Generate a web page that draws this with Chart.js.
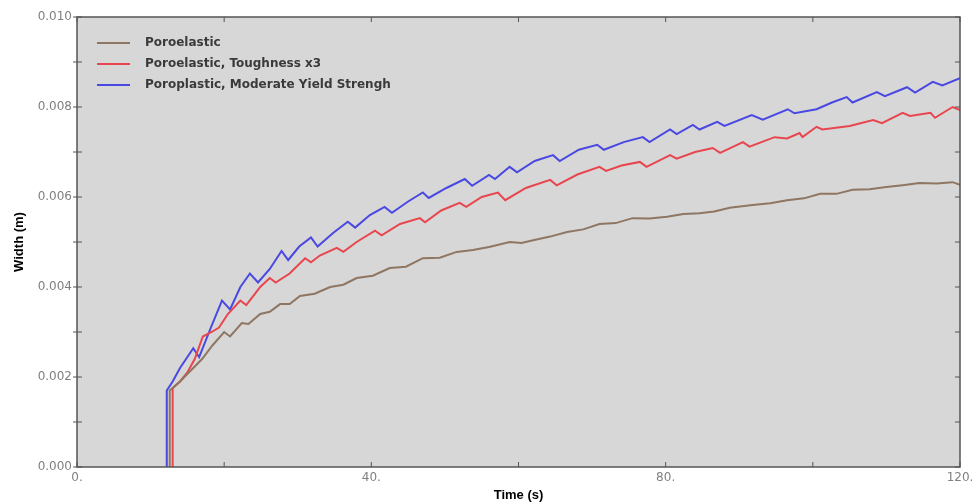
<!DOCTYPE html>
<html lang="en">
<head>
    <meta charset="UTF-8">
    <title>Width vs Time</title>
    <script src="https://cdn.jsdelivr.net/npm/chart.js"></script>
    <style>
        html, body { margin: 0; padding: 0; background: #ffffff; }
        .chart-box { width: 973px; height: 503px; position: relative; }
    </style>
</head>
<body>
    <div class="chart-box">
        <canvas id="widthChart"></canvas>
    </div>

    <script>
        // [time (s), width (m)] samples for each run
        const poroelastic = [
            [12.6, 0], [12.6, 0.0017], [14.0, 0.0019], [15.8, 0.0022], [17.0, 0.0024], [18.4, 0.0027],
            [20.0, 0.0030], [20.8, 0.0029], [22.4, 0.0032], [23.3, 0.00318], [24.9, 0.0034], [26.2, 0.00345],
            [27.6, 0.00362], [28.9, 0.00362], [30.3, 0.0038], [32.3, 0.00385], [34.4, 0.0040], [36.2, 0.00405],
            [38.0, 0.0042], [40.2, 0.00425], [42.5, 0.00442], [44.7, 0.00445], [47.0, 0.00464], [49.3, 0.00465],
            [51.6, 0.00478], [53.8, 0.00482], [56.0, 0.00489], [58.8, 0.0050], [60.4, 0.00498], [62.0, 0.00504],
            [64.3, 0.00512], [66.6, 0.00522], [68.8, 0.00528], [71.0, 0.0054], [73.2, 0.00542], [75.5, 0.00553],
            [77.8, 0.00552], [80.2, 0.00556], [82.4, 0.00562], [84.6, 0.00564], [86.6, 0.00568], [88.7, 0.00576],
            [91.8, 0.00582], [94.2, 0.00586], [96.5, 0.00593], [98.8, 0.00597], [101.0, 0.00607], [103.2, 0.00607],
            [105.4, 0.00616], [107.7, 0.00617], [110.0, 0.00622], [112.2, 0.00626], [114.5, 0.00631], [116.8, 0.0063],
            [119.0, 0.00633], [120.0, 0.00627]
        ];

        const toughnessX3 = [
            [13.0, 0], [13.0, 0.00175], [14.0, 0.0019], [15.0, 0.0021], [16.0, 0.0024], [17.1, 0.0029],
            [18.3, 0.0030], [19.3, 0.0031], [20.5, 0.0034], [22.2, 0.0037], [23.0, 0.0036], [24.9, 0.0040],
            [26.2, 0.0042], [27.0, 0.0041], [28.9, 0.0043], [31.0, 0.00464], [31.8, 0.00455], [33.0, 0.0047],
            [35.3, 0.00487], [36.2, 0.00478], [38.0, 0.0050], [40.5, 0.00525], [41.4, 0.00515], [43.9, 0.0054],
            [46.6, 0.00553], [47.3, 0.00544], [49.5, 0.0057], [52.0, 0.00587], [52.9, 0.00578], [55.0, 0.0060],
            [57.2, 0.0061], [58.2, 0.00593], [61.0, 0.0062], [64.3, 0.00638], [65.2, 0.00626], [68.0, 0.0065],
            [71.0, 0.00667], [71.9, 0.00658], [74.0, 0.0067], [76.5, 0.00678], [77.4, 0.00667], [80.6, 0.00693],
            [81.5, 0.00685], [84.0, 0.0070], [86.4, 0.00709], [87.4, 0.00698], [90.5, 0.00722], [91.4, 0.00712],
            [94.8, 0.00733], [96.5, 0.0073], [98.2, 0.00742], [98.6, 0.00733], [100.5, 0.00756], [101.3, 0.0075],
            [105.0, 0.00758], [108.2, 0.00771], [109.4, 0.00764], [112.2, 0.00787], [113.2, 0.0078], [116.0, 0.00787],
            [116.6, 0.00776], [119.0, 0.0080], [120.0, 0.00793]
        ];

        const moderateYield = [
            [12.2, 0], [12.2, 0.0017], [13.0, 0.0019], [14.0, 0.0022], [15.8, 0.00264], [16.6, 0.00244],
            [18.2, 0.0031], [19.7, 0.0037], [20.8, 0.0035], [22.2, 0.0040], [23.5, 0.0043], [24.6, 0.0041],
            [26.2, 0.0044], [27.8, 0.0048], [28.7, 0.0046], [30.2, 0.0049], [31.8, 0.0051], [32.7, 0.0049],
            [34.8, 0.0052], [36.8, 0.00545], [37.8, 0.00532], [39.8, 0.0056], [41.8, 0.00578], [42.8, 0.00565],
            [45.0, 0.0059], [47.0, 0.0061], [47.8, 0.00598], [50.2, 0.0062], [52.7, 0.0064], [53.7, 0.00625],
            [56.0, 0.00649], [56.8, 0.0064], [58.8, 0.00667], [59.8, 0.00655], [62.2, 0.0068], [64.7, 0.00693],
            [65.6, 0.0068], [68.2, 0.00705], [70.7, 0.00716], [71.6, 0.00705], [74.3, 0.00722], [76.9, 0.00733],
            [77.8, 0.00722], [80.6, 0.0075], [81.5, 0.0074], [83.7, 0.0076], [84.6, 0.0075], [87.0, 0.00767],
            [88.0, 0.00758], [91.7, 0.00782], [93.2, 0.00772], [96.6, 0.00795], [97.5, 0.00786], [100.5, 0.00795],
            [102.6, 0.0081], [104.6, 0.00822], [105.4, 0.0081], [108.7, 0.00833], [109.8, 0.00824], [112.8, 0.00844],
            [113.9, 0.00832], [116.3, 0.00856], [117.6, 0.00848], [120.0, 0.00864]
        ];

        const seriesNames = ['Poroelastic', 'Poroelastic, Toughness x3', 'Poroplastic, Moderate Yield Strengh'];
        const seriesColors = ['#8f7662', '#e8464e', '#4a48e2'];
        const xLabelTicks = [0, 40, 80, 120];
        const yLabelTicks = [0, 0.002, 0.004, 0.006, 0.008, 0.010];

        const toPoints = arr => arr.map(p => ({ x: p[0], y: p[1] }));

        // grey plot panel, frame with inward ticks, and the in-plot legend
        const panelPlugin = {
            id: 'panel',
            beforeDraw(chart) {
                const a = chart.chartArea, c = chart.ctx;
                c.save();
                c.fillStyle = '#d7d7d7';
                c.fillRect(a.left, a.top, a.right - a.left, a.bottom - a.top);
                c.restore();
            },
            afterDraw(chart) {
                const a = chart.chartArea, c = chart.ctx;
                const xs = chart.scales.x, ys = chart.scales.y;
                c.save();
                c.strokeStyle = '#555555';
                c.lineWidth = 1.5;
                c.strokeRect(a.left, a.top, a.right - a.left, a.bottom - a.top);
                c.lineWidth = 1;
                c.beginPath();
                xs.ticks.forEach(t => {
                    const px = xs.getPixelForValue(t.value);
                    c.moveTo(px, a.bottom); c.lineTo(px, a.bottom - 5);
                    c.moveTo(px, a.top); c.lineTo(px, a.top + 5);
                });
                ys.ticks.forEach(t => {
                    const py = ys.getPixelForValue(t.value);
                    c.moveTo(a.left - 4, py); c.lineTo(a.left + 5, py);
                    c.moveTo(a.right, py); c.lineTo(a.right - 5, py);
                });
                c.stroke();

                // legend
                c.font = 'bold 12px "DejaVu Sans"';
                c.textBaseline = 'middle';
                chart.data.datasets.forEach((ds, i) => {
                    const y = a.top + 26 + i * 21;
                    c.strokeStyle = ds.borderColor;
                    c.lineWidth = 2;
                    c.beginPath();
                    c.moveTo(a.left + 20, y); c.lineTo(a.left + 53, y);
                    c.stroke();
                    c.fillStyle = '#3a3a3a';
                    c.fillText(ds.label, a.left + 68, y);
                });
                c.restore();
            }
        };

        new Chart(document.getElementById('widthChart'), {
            type: 'scatter',
            data: {
                datasets: [poroelastic, toughnessX3, moderateYield].map((arr, i) => ({
                    label: seriesNames[i],
                    data: toPoints(arr),
                    showLine: true,
                    borderColor: seriesColors[i],
                    borderWidth: 2,
                    pointRadius: 0,
                    tension: 0,
                    fill: false
                }))
            },
            options: {
                responsive: true,
                maintainAspectRatio: false,
                animation: false,
                layout: { padding: { left: 0, right: 13, top: 17, bottom: 0 } },
                scales: {
                    x: {
                        type: 'linear',
                        min: 0, max: 120,
                        grid: { drawOnChartArea: false, drawTicks: false },
                        border: { display: false },
                        ticks: {
                            stepSize: 20,
                            padding: 4,
                            maxRotation: 0,
                            color: '#808080',
                            font: { family: 'DejaVu Sans', size: 12 },
                            callback: v => xLabelTicks.includes(v) ? v + '.' : ''
                        },
                        title: {
                            display: true,
                            text: 'Time (s)',
                            color: '#000000',
                            font: { family: 'Liberation Sans', size: 13, weight: 'bold' },
                            padding: { top: 0, bottom: 0 }
                        },
                        afterFit: s => { s.height = 36; s.paddingLeft = 0; s.paddingRight = 0; }
                    },
                    y: {
                        min: 0, max: 0.010,
                        grid: { drawOnChartArea: false, drawTicks: false },
                        border: { display: false },
                        ticks: {
                            stepSize: 0.001,
                            padding: 5,
                            color: '#808080',
                            font: { family: 'DejaVu Sans', size: 12 },
                            callback: v => yLabelTicks.some(t => Math.abs(t - v) < 1e-9) ? v.toFixed(3) : ''
                        },
                        title: {
                            display: true,
                            text: 'Width (m)',
                            color: '#000000',
                            font: { family: 'Liberation Sans', size: 13, weight: 'bold' },
                            padding: { top: 12, bottom: 0 }
                        },
                        afterFit: s => { s.width = 77; s.paddingTop = 0; s.paddingBottom = 0; }
                    }
                },
                plugins: {
                    legend: { display: false },
                    tooltip: { enabled: false }
                }
            },
            plugins: [panelPlugin]
        });
    </script>
</body>
</html>
